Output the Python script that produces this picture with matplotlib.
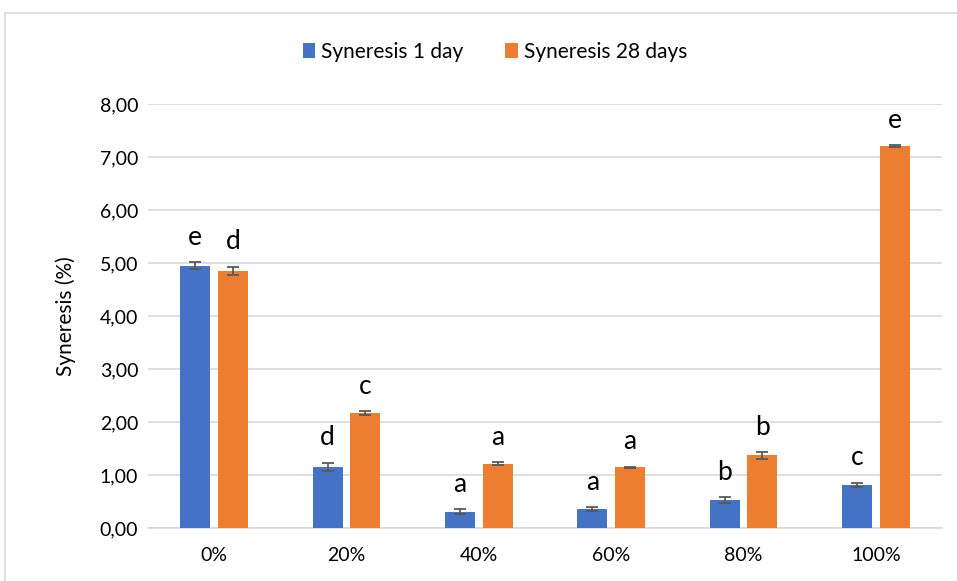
import matplotlib
matplotlib.use("Agg")
import matplotlib.pyplot as plt
from matplotlib.patches import Rectangle
import numpy as np

categories = ["0%", "20%", "40%", "60%", "80%", "100%"]
day1 = [4.95, 1.15, 0.31, 0.36, 0.53, 0.81]
day1_err = [0.06, 0.08, 0.04, 0.03, 0.05, 0.04]
day28 = [4.85, 2.17, 1.21, 1.15, 1.37, 7.20]
day28_err = [0.08, 0.03, 0.03, 0.01, 0.06, 0.02]
letters1 = ["e", "d", "a", "a", "b", "c"]
letters28 = ["d", "c", "a", "a", "b", "e"]
yticks = [0, 1, 2, 3, 4, 5, 6, 7, 8]

plt.rcParams['font.family'] = ['Lato', 'DejaVu Sans']

fig = plt.figure(figsize=(9.57, 5.81), dpi=100)
fig.patches.append(Rectangle((5/957, -0.05), 1.1, 1 - 13/581 + 0.05, transform=fig.transFigure,
                             fill=False, edgecolor="#d9d9d9", linewidth=1.2))
ax = fig.add_axes([148/957, 1 - 528/581, (942 - 148)/957, (528 - 104)/581])

x = np.arange(len(categories))
w = 0.227
off = 0.143
b1 = ax.bar(x - off, day1, w, color="#4472C4", label="Syneresis 1 day", zorder=3)
b2 = ax.bar(x + off, day28, w, color="#ED7D31", label="Syneresis 28 days", zorder=3)
ax.errorbar(x - off, day1, yerr=day1_err, fmt="none", ecolor="#595959", capsize=4, elinewidth=1.3, capthick=1.3, zorder=4)
ax.errorbar(x + off, day28, yerr=day28_err, fmt="none", ecolor="#595959", capsize=4, elinewidth=1.3, capthick=1.3, zorder=4)

for xi, v, e, t in zip(x - off, day1, day1_err, letters1):
    ax.annotate(t, (xi, v + e), xytext=(0, 9), textcoords="offset points", ha="center", va="bottom", fontsize=19)
for xi, v, e, t in zip(x + off, day28, day28_err, letters28):
    ax.annotate(t, (xi, v + e), xytext=(0, 9), textcoords="offset points", ha="center", va="bottom", fontsize=19)

ax.set_xlim(-0.5, len(categories) - 0.5)
ax.set_ylim(0, 8)
ax.set_yticks(yticks)
ax.set_yticklabels([f"{t:.2f}".replace(".", ",") for t in yticks], fontsize=14)
ax.set_xticks(x)
ax.set_xticklabels(categories, fontsize=14)
ax.tick_params(axis="y", length=0, pad=7)
ax.tick_params(axis="x", length=0, pad=14)
ax.grid(axis="y", color="#d9d9d9", linewidth=1.2, zorder=0)
for s in ["top", "right", "left"]:
    ax.spines[s].set_visible(False)
ax.spines["bottom"].set_color("#d9d9d9")
ax.spines["bottom"].set_linewidth(1.2)
ax.set_ylabel("Syneresis (%)", fontsize=15, labelpad=17)

fig.legend(handles=[b1, b2], loc="center", bbox_to_anchor=(495/957, 1 - 52/581), ncol=2, frameon=False,
           fontsize=15, handlelength=0.6, handleheight=0.7, handletextpad=0.3, columnspacing=2.0)

fig.savefig("out.png", dpi=100)
